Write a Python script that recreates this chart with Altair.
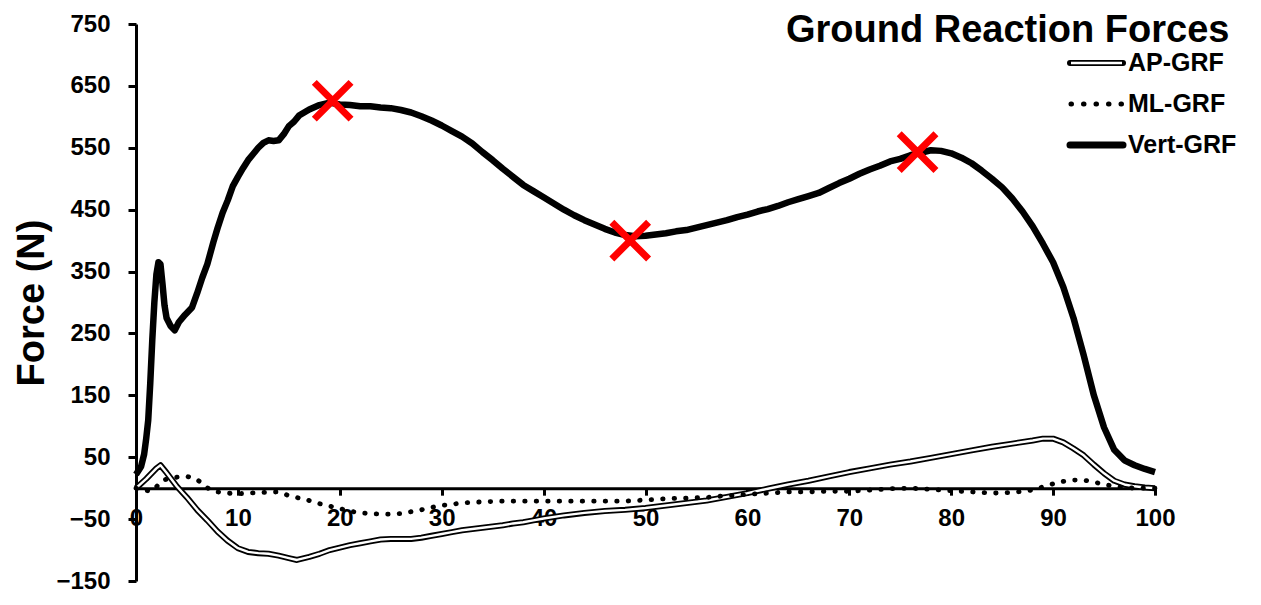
import altair as alt
import pandas as pd

# ---------------- data ----------------
vert_x = [0, 0.5, 0.8, 1.0, 1.2, 1.4, 1.6, 1.8, 2.0, 2.2, 2.4, 2.6, 2.8, 3.0, 3.4, 3.8, 4.2, 4.8,
          5.5, 6.0, 6.5, 7.0, 7.6, 8.0, 8.5, 9.0, 9.5, 10.0, 10.5, 11.0, 11.5, 12.0, 12.5, 13.0,
          13.5, 14.0, 14.5, 15.0, 15.5, 16.0, 17, 18, 19, 20, 21, 22, 23, 24, 25, 26, 27, 28,
          29, 30, 31, 32, 33, 34, 35, 36, 37, 38, 39, 40, 41, 42, 43, 44, 45, 46, 47, 48, 49,
          50, 51, 52, 53, 54, 55, 56, 57, 58, 59, 60, 61, 62, 63, 64, 65, 66, 67, 68, 69, 70,
          71, 72, 73, 74, 75, 76, 77, 78, 79, 80, 81, 82, 83, 84, 85, 86, 87, 88, 89, 90, 91,
          92, 93, 94, 95, 96, 97, 98, 99, 100]
vert_f = [22, 35, 55, 80, 110, 170, 240, 300, 345, 365, 362, 330, 295, 275, 262, 255, 268, 280,
          292, 315, 340, 362, 398, 420, 445, 465, 488, 503, 517, 530, 540, 550, 558, 562,
          561, 562, 572, 585, 592, 602, 612, 619, 623, 620, 619, 617, 617, 615, 614, 611, 607, 601,
          594, 586, 577, 568, 557, 543, 530, 516, 503, 490, 480, 470, 460, 450, 441, 433, 426, 419, 413, 409, 407,
          408, 410, 412, 415, 417, 421, 425, 429, 433, 438, 442, 447, 451, 456, 462, 467, 472, 477, 485, 493, 500,
          508, 515, 521, 528, 532, 538, 542, 546, 545, 541, 534, 525, 513, 500, 486, 468, 447, 423, 395, 365, 325,
          275, 215, 150, 98, 62, 45, 37, 31, 26]

ap_x = [0, 1, 2, 2.4, 3, 4, 5, 6, 7, 8, 9, 10, 11, 12, 13, 14, 15, 15.8, 17, 18, 19, 20, 21, 22,
        23, 24, 25, 26, 27, 28, 29, 30, 31, 32, 33, 34, 35, 36, 37, 38, 39, 40, 42, 44, 46, 48,
        50, 52, 54, 56, 58, 60, 62, 64, 66, 68, 70, 72, 74, 76, 78, 80, 82, 84, 86, 88, 89, 90,
        91, 92, 93, 94, 95, 96, 97, 98, 99, 100]
ap_f = [0, 15, 32, 37, 25, 3, -15, -35, -52, -70, -85, -97, -103, -105, -106, -109, -113, -116, -111, -106, -100, -96, -92, -89,
        -86, -83, -82, -82, -82, -80, -77, -74, -71, -68, -66, -64, -62, -60, -57, -55, -52, -49, -44, -40, -37, -35,
        -32, -28, -24, -20, -14, -8, -1, 6, 12, 19, 26, 32, 38, 43, 49, 55, 61, 67, 72, 77, 80, 80,
        74, 64, 53, 38, 24, 12, 6, 3, 1, 0]

ml_x = [0, 0.7, 1.5, 2.0, 2.5, 3.5, 5.0, 6.0, 6.8, 7.5, 9, 10, 12, 14, 15, 16, 17, 18, 19, 20, 21,
        22, 23, 24, 25, 26, 27, 28, 29, 30, 31, 32, 34, 36, 38, 40, 44, 48, 50, 52, 54, 56, 58,
        60, 62, 64, 66, 68, 70, 72, 74, 76, 78, 80, 82, 84, 86, 88, 89, 90, 91, 92, 93, 94, 95,
        96, 97, 98, 100]
ml_f = [0, -3, -5, 2, 12, 17, 19, 14, 3, -5, -8, -9, -7, -6, -12, -16, -20, -25, -29, -33, -37,
        -40, -41, -42, -42, -41, -38, -35, -31, -28, -26, -24, -22, -21, -21, -21, -21, -21, -19, -17, -16, -15, -12,
        -10, -8, -6, -6, -5, -5, -3, -1, 0, -2, -4, -6, -8, -7, -3, 2, 7, 11, 13, 13, 10, 6,
        3, 1, 0, 0]

marker_x = [19.3, 48.5, 76.7]
marker_f = [626, 400, 543]

series_names = ["AP-GRF", "ML-GRF", "Vert-GRF"]
x_ticks = list(range(0, 101, 10))
y_ticks = list(range(-150, 751, 100))
title_text = "Ground Reaction Forces"
y_title = "Force (N)"

# ---------------- layout ----------------
FONT = "Liberation Sans"
W, H = 1019, 557
PAD = {"left": 128, "top": 16, "right": 98, "bottom": 12}
ZERO_OFFSET = -(H - H * 750 / 900)

df_vert = pd.DataFrame({"pct": vert_x, "force": vert_f})
df_ap = pd.DataFrame({"pct": ap_x, "force": ap_f})
df_ml = pd.DataFrame({"pct": ml_x, "force": ml_f})
df_mk = pd.DataFrame({"pct": marker_x, "force": marker_f})

x_scale = alt.Scale(domain=[0, 100], nice=False, zero=False)
y_scale = alt.Scale(domain=[-150, 750], nice=False, zero=False)

x_axis = alt.Axis(values=x_ticks, title=None, offset=ZERO_OFFSET, grid=False,
                  domainColor="black", domainWidth=3, tickColor="black", tickWidth=3, tickSize=7,
                  labelFont=FONT, labelFontSize=24, labelFontWeight="bold", labelColor="black",
                  labelPadding=11, labelFlush=False, labelOverlap=False)
y_axis = alt.Axis(values=y_ticks, title=y_title, grid=False,
                  domainColor="black", domainWidth=3, tickColor="black", tickWidth=3, tickSize=8,
                  labelFont=FONT, labelFontSize=24, labelFontWeight="bold", labelColor="black",
                  labelPadding=18, labelFlush=False, labelOverlap=False,
                  titleFont=FONT, titleFontSize=38, titleFontWeight="bold", titleColor="black",
                  titleAngle=270, titleX=-93, titleY=H / 2, titleAlign="center",
                  titleBaseline="alphabetic")

X = alt.X("pct:Q", scale=x_scale, axis=x_axis)
Y = alt.Y("force:Q", scale=y_scale, axis=y_axis)

ap_outer = alt.Chart(df_ap).mark_line(color="black", strokeWidth=6, strokeJoin="round").encode(x=X, y=Y)
ap_inner = alt.Chart(df_ap).mark_line(color="white", strokeWidth=2.4, strokeJoin="round").encode(x=X, y=Y)
ml_line = alt.Chart(df_ml).mark_line(color="black", strokeWidth=4.8, strokeCap="round",
                                     strokeDash=[0.5, 11]).encode(x=X, y=Y)
vert_line = alt.Chart(df_vert).mark_line(color="black", strokeWidth=6.5, strokeJoin="round").encode(x=X, y=Y)
markers = alt.Chart(df_mk).mark_point(shape="M-1,-1L1,1M1,-1L-1,1", filled=False, stroke="#ff0000",
                                      strokeWidth=7, size=1350, opacity=1).encode(x=X, y=Y)

one = alt.Data(values=[{}])

title = alt.Chart(alt.Data(values=[{"t": title_text}])).mark_text(
    font=FONT, fontSize=38, fontWeight="bold", color="black", align="left", baseline="alphabetic"
).encode(x=alt.value(650), y=alt.value(18), text="t:N")

# legend (layout positions in plot pixels)
LX1, LX2, LTX = 934, 987, 992
LYS = [39, 80, 121]
legend_layers = []
legend_layers.append(alt.Chart(one).mark_rule(color="black", strokeWidth=6, strokeCap="round").encode(
    x=alt.value(LX1), x2=alt.value(LX2), y=alt.value(LYS[0])))
legend_layers.append(alt.Chart(one).mark_rule(color="white", strokeWidth=2.4, strokeCap="butt").encode(
    x=alt.value(LX1 + 1), x2=alt.value(LX2 - 1), y=alt.value(LYS[0])))
legend_layers.append(alt.Chart(one).mark_rule(color="black", strokeWidth=5, strokeCap="round",
                                              strokeDash=[0.5, 12]).encode(
    x=alt.value(LX1 + 1), x2=alt.value(LX2), y=alt.value(LYS[1])))
legend_layers.append(alt.Chart(one).mark_rule(color="black", strokeWidth=7, strokeCap="round").encode(
    x=alt.value(LX1), x2=alt.value(LX2), y=alt.value(LYS[2])))
for name, ly in zip(series_names, LYS):
    legend_layers.append(alt.Chart(alt.Data(values=[{"n": name}])).mark_text(
        font=FONT, fontSize=25, fontWeight="bold", color="black", align="left", baseline="middle"
    ).encode(x=alt.value(LTX), y=alt.value(ly), text="n:N"))

chart = alt.layer(ap_outer, ap_inner, ml_line, vert_line, markers, title, *legend_layers).properties(
    width=W, height=H,
    autosize=alt.AutoSizeParams(type="none"),
    padding=PAD,
    background="white",
).configure_view(stroke=None)

chart.save("out.html", embed_options={"renderer": "svg", "actions": False})
